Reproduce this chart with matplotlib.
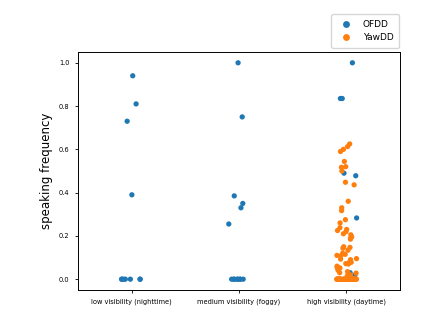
import numpy as np
import pandas as pd
import matplotlib
matplotlib.use("Agg")
import matplotlib.pyplot as plt
import seaborn as sns

conditions = ["low visibility (nighttime)", "medium visibility (foggy)", "high visibility (daytime)"]
datasets = ["OFDD", "YawDD"]

low_ofdd = [0.94, 0.81, 0.73, 0.39, 0, 0, 0, 0, 0, 0, 0]
med_ofdd = [1.0, 0.75, 0.385, 0.35, 0.33, 0.255, 0, 0, 0, 0, 0, 0, 0, 0]
high_ofdd = [1.0, 0.835, 0.835, 0.49, 0.478, 0.283, 0.03, 0.02, 0.01, 0, 0]
high_yawdd = [0.625, 0.613, 0.60, 0.59, 0.544, 0.52, 0.517, 0.50, 0.448, 0.436,
              0.36, 0.33, 0.317, 0.275, 0.26, 0.238, 0.23, 0.225, 0.22, 0.21,
              0.205, 0.195, 0.19, 0.185, 0.15, 0.147, 0.143, 0.134, 0.12, 0.115,
              0.11, 0.108, 0.095, 0.093, 0.09, 0.08, 0.078, 0.072, 0.07, 0.06,
              0.055, 0.052, 0.05, 0.045, 0.04, 0.035, 0.03, 0.028, 0.02, 0.015,
              0.01] + [0] * 35

rows = []
for cond, ds, vals in [(conditions[0], "OFDD", low_ofdd),
                       (conditions[1], "OFDD", med_ofdd),
                       (conditions[2], "OFDD", high_ofdd),
                       (conditions[2], "YawDD", high_yawdd)]:
    for v in vals:
        rows.append((cond, ds, v))
df = pd.DataFrame(rows, columns=["condition", "dataset", "freq"])

np.random.seed(3)
fig = plt.figure(figsize=(4.48, 3.29), dpi=100)
ax = fig.add_axes([0.174, 0.1185, 0.719, 0.7235])
sns.stripplot(data=df, x="condition", y="freq", hue="dataset", order=conditions,
              hue_order=datasets, size=3.8, jitter=True, ax=ax)

ax.set_xlabel("")
ax.set_ylabel("speaking frequency", fontsize=8.5)
ax.tick_params(axis="both", labelsize=4.8, length=2.5, width=0.6)
for s in ax.spines.values():
    s.set_linewidth(0.7)

h, l = ax.get_legend_handles_labels()
ax.legend(h, l, loc="lower right", bbox_to_anchor=(0.997, 1.018),
          borderaxespad=0, fontsize=6.5, markerscale=1.3,
          borderpad=0.6, handletextpad=0.9)

fig.savefig("out.png", dpi=100)
